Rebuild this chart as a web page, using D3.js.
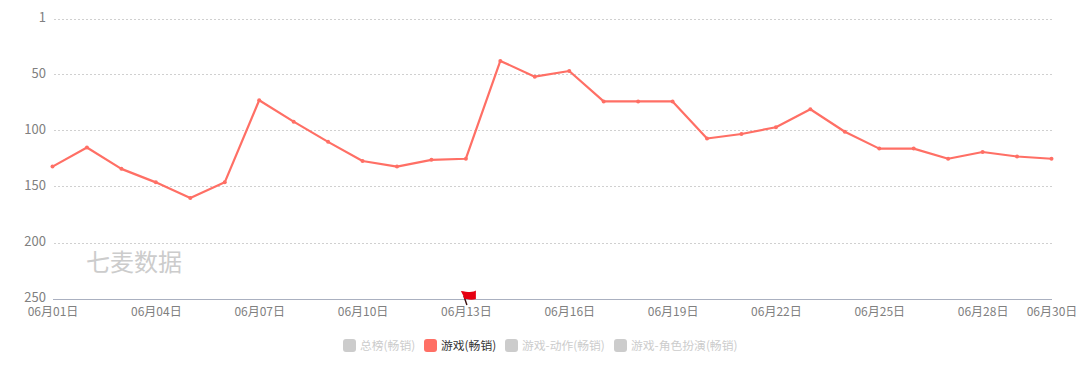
<!DOCTYPE html>
<html>
<head>
<meta charset="utf-8">
<script src="https://cdn.jsdelivr.net/npm/d3@7"></script>
<style>
html, body { margin: 0; padding: 0; background: #fff; }
text { font-family: "Noto Sans CJK SC", "Noto Sans", sans-serif; }
</style>
</head>
<body>
<div id="chart"></div>
<script>
var days = ["06月01日","06月02日","06月03日","06月04日","06月05日","06月06日","06月07日","06月08日","06月09日","06月10日",
    "06月11日","06月12日","06月13日","06月14日","06月15日","06月16日","06月17日","06月18日","06月19日","06月20日",
    "06月21日","06月22日","06月23日","06月24日","06月25日","06月26日","06月27日","06月28日","06月29日","06月30日"];
var ranks = [132,115,134,146,160,146,73,92,110,127,132,126,125,38,52,47,74,74,74,107,103,97,81,101,116,116,125,119,123,125];
var rankTicks = [1,50,100,150,200,250];
var dayTicks = ["06月01日","06月04日","06月07日","06月10日","06月13日","06月16日","06月19日","06月22日","06月25日","06月28日","06月30日"];
var flagDays = ["06月13日"];
var legendNames = ["总榜(畅销)","游戏(畅销)","游戏-动作(畅销)","游戏-角色扮演(畅销)"];
var legendOn = [false,true,false,false];
var legendX = [343,424,505,614];

var lineColor = "#ff6f65";

var svg = d3.select("#chart").append("svg")
    .attr("width", 1080)
    .attr("height", 376)
    .style("display", "block");

var x = d3.scalePoint().domain(days).range([52.5, 1051.5]);
var y = d3.scaleLinear().domain([1, 250]).range([19.3, 299.3]);

// grid lines, dotted
svg.selectAll(".grid").data(rankTicks.slice(0, 5)).enter().append("line")
    .attr("class", "grid")
    .attr("x1", 54).attr("x2", 1052)
    .attr("y1", d => Math.floor(y(d)) + 0.5)
    .attr("y2", d => Math.floor(y(d)) + 0.5)
    .style("stroke", "#d0d0d0")
    .style("stroke-dasharray", "2,2");

svg.append("text")
    .attr("x", 86).attr("y", 271)
    .attr("font-size", "24px")
    .attr("fill", "#cccccc")
    .text("七麦数据");

var yAxis = d3.axisLeft(y).tickValues(rankTicks).tickSize(0).tickPadding(0);
svg.append("g")
    .attr("transform", "translate(46,-1.5)")
    .call(yAxis)
    .call(g => g.select(".domain").remove())
    .selectAll("text")
    .attr("font-size", "13px")
    .style("font-family", "'Noto Sans CJK SC'")
    .attr("fill", "#808080");

var xAxis = d3.axisBottom(x).tickValues(dayTicks).tickSize(0).tickPadding(0);
svg.append("g")
    .attr("transform", "translate(0,307)")
    .call(xAxis)
    .call(g => g.select(".domain").remove())
    .selectAll("text")
    .attr("font-size", "12px")
    .style("font-family", "'Noto Sans CJK SC'")
    .attr("fill", "#808080");

svg.append("line")
    .attr("x1", 53).attr("x2", 1052)
    .attr("y1", 299.5).attr("y2", 299.5)
    .style("stroke", "#aab0c0")
    .style("stroke-width", 1);

var line = d3.line().x((d, i) => x(days[i])).y(d => y(d));
svg.append("path")
    .datum(ranks)
    .attr("d", line)
    .style("fill", "none")
    .style("stroke", lineColor)
    .style("stroke-width", 2.2)
    .style("stroke-linejoin", "round");

svg.selectAll(".dot").data(ranks).enter().append("circle")
    .attr("class", "dot")
    .attr("cx", (d, i) => x(days[i]))
    .attr("cy", d => y(d))
    .attr("r", 2)
    .style("fill", lineColor);

// flag sits on the axis under its day
var flags = svg.selectAll(".flag").data(flagDays).enter().append("g")
    .attr("class", "flag")
    .attr("transform", d => "translate(" + (x(d) + 1) + ",305)");
flags.append("path")
    .attr("d", "M0,0 L-3,-9")
    .style("stroke", "#3a1010")
    .style("stroke-width", 1.4);
flags.append("path")
    .attr("d", "M-6,-14 C-3,-13.5 1,-13 3,-13 C6,-13 8,-14 9,-14.5 L9,-6 C6,-5 3,-5 0,-6 L-2.5,-6 C-3,-9 -5,-12 -6,-14 Z")
    .style("fill", "#e60012");

var legend = svg.selectAll(".legend").data(legendNames).enter().append("g")
    .attr("class", "legend")
    .attr("transform", (d, i) => "translate(" + legendX[i] + ",339)");
legend.append("rect")
    .attr("width", 13).attr("height", 13).attr("rx", 3)
    .style("fill", (d, i) => legendOn[i] ? "#ff6f65" : "#cccccc");
legend.append("text")
    .attr("x", 17).attr("y", 10.5)
    .attr("font-size", "11.8px")
    .attr("fill", (d, i) => legendOn[i] ? "#333333" : "#cccccc")
    .text(d => d);
</script>
</body>
</html>
